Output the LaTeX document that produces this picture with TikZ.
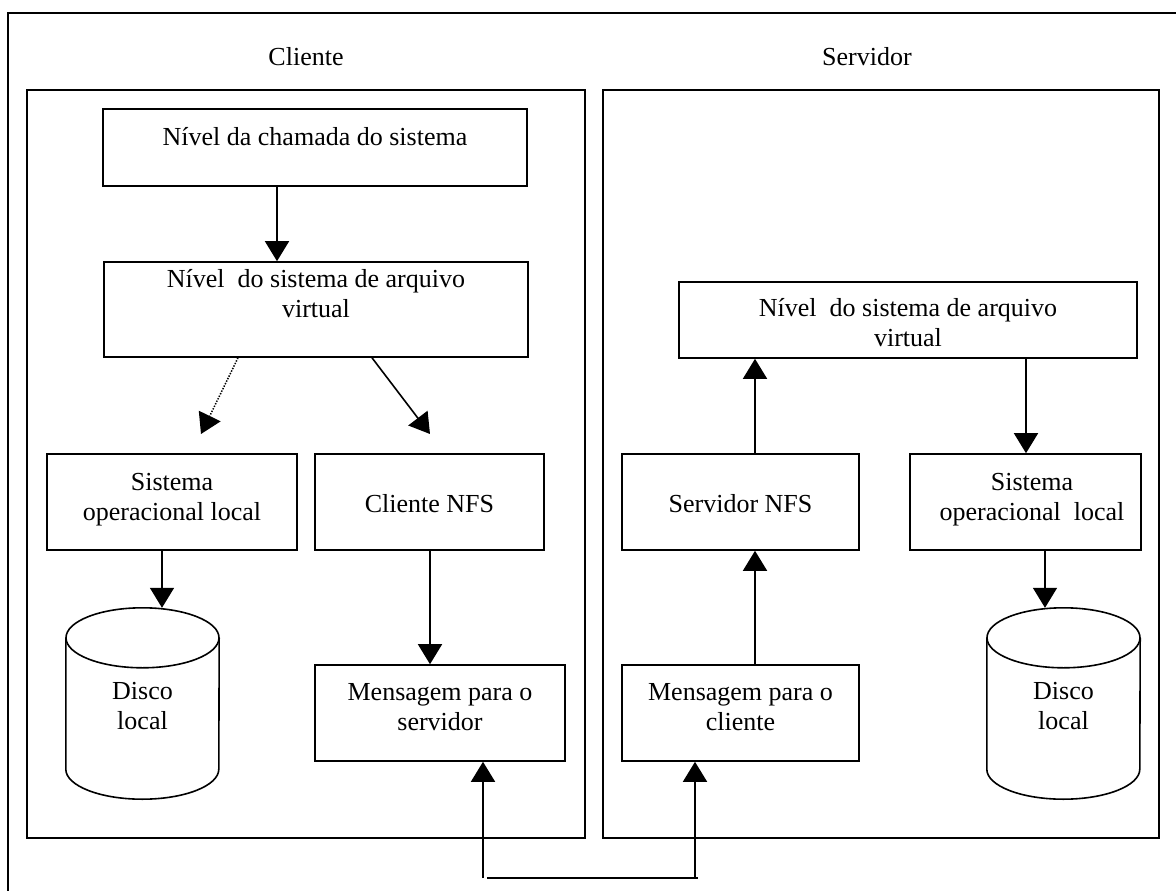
\documentclass[tikz,border=0pt]{standalone}
\usepackage{fontspec}
\setmainfont{Liberation Serif}
\usetikzlibrary{arrows.meta,calc}

% A drawn layer box whose text starts near the top: name, x1, y1, x2, y2, first baseline offset, text
\newcommand\layerbox[7]{%
  \node[layer] (#1) at ({(#2+#4)/2},{(#3+#5)/2})
    {\parbox[c][\dimexpr#5pt-#3pt\relax][t]{\dimexpr#4pt-#2pt\relax}{\centering\rule{0pt}{#6pt}#7\par}};}

% A disk: invisible text node plus cylinder outline
\newcommand\diskdrive[6]{%
  \node[inner sep=0pt] (#1) at ({(#2+#4)/2},{(#3+#5)/2})
    {\parbox[c][\dimexpr#5pt-#3pt\relax][t]{\dimexpr#4pt-#2pt\relax}{\centering\rule{0pt}{#6pt}Disco\\local\par}};
  \draw[frame] ([yshift=-30pt]#1.north) ellipse [x radius={(#4-#2)/2*1pt}, y radius=30pt];
  \draw[frame] ([yshift=-30pt]#1.north west) -- ([yshift=30pt]#1.south west)
    arc[start angle=180, end angle=360, x radius={(#4-#2)/2*1pt}, y radius=30pt]
    -- ([yshift=-30pt]#1.north east);}

\begin{document}
\fontsize{26pt}{30pt}\selectfont
\begin{tikzpicture}[x=1pt, y=-1pt,
  frame/.style={line width=1.6pt, draw=black},
  layer/.style={frame, inner sep=0pt},
  panel/.style={frame, inner sep=0pt},
  arr/.style={line width=1.6pt, -{Triangle[length=20pt,width=24pt]}},
  dotarr/.style={line width=1.5pt, dash pattern=on 1.4pt off 1.4pt, -{Triangle[length=20pt,width=24pt]}},
  plain/.style={line width=1.6pt}]
  \useasboundingbox (0,0) rectangle (1176,891);
  \clip (0,0) rectangle (1176,891);

  % outer frame (open to the right and bottom)
  \draw[frame] (8,895) -- (8,13) -- (1180,13);

  % the two machines
  \node[panel, minimum width=558pt, minimum height=748pt] (cli) at (306,464) {};
  \node[panel, minimum width=556pt, minimum height=748pt] (srv) at (881,464) {};
  \node[anchor=base] (clilbl) at (306,66) {Cliente};
  \node[anchor=base] (srvlbl) at (867,66) {Servidor};

  % client side
  \layerbox{chamada}{103}{109}{527}{186}{36}{Nível da chamada do sistema}
  \layerbox{virtC}{104}{262}{528}{357}{25}{Nível~~do sistema de arquivo\\virtual}
  \layerbox{soC}{47}{454}{297}{550}{36}{Sistema\\operacional local}
  \layerbox{nfsC}{315}{454}{544}{550}{58}{Cliente NFS}
  \layerbox{msgS}{315}{665}{565}{761}{35}{Mensagem para o\\servidor}
  \diskdrive{diskC}{66}{608}{219}{799}{91}

  % server side
  \layerbox{virtS}{679}{282}{1137}{358}{34}{Nível~~do sistema de arquivo\\virtual}
  \layerbox{nfsS}{622}{454}{859}{550}{58}{Servidor NFS}
  \layerbox{soS}{910}{454}{1141}{550}{36}{~~Sistema\\~~operacional~~local}
  \layerbox{msgC}{622}{665}{859}{761}{35}{Mensagem para o\\cliente}
  \diskdrive{diskS}{987}{608}{1140}{799}{91}

  % client connectors
  \draw[arr] ([xshift=-38pt]chamada.south) -- ([xshift=-39pt]virtC.north);
  \coordinate (tipL) at (201,434);
  \coordinate (tipR) at (430,434);
  \draw[dotarr] ([xshift=-78pt]virtC.south) -- (tipL);
  \draw[arr] ([xshift=56pt]virtC.south) -- (tipR);
  \draw[arr] ([xshift=-10pt]soC.south) -- ([xshift=19.5pt]diskC.north);
  \draw[arr] ([xshift=0.5pt]nfsC.south) -- ([xshift=-10pt]msgS.north);

  % server connectors
  \draw[arr] ([xshift=14.5pt]msgC.north) -- ([xshift=14.5pt]nfsS.south);
  \draw[arr] ([xshift=14.5pt]nfsS.north) -- ([xshift=-153pt]virtS.south);
  \draw[arr] ([xshift=118pt]virtS.south) -- ([xshift=0.5pt]soS.north);
  \draw[arr] ([xshift=19.5pt]soS.south) -- ([xshift=-18.5pt]diskS.north);

  % network link between the two message layers
  \coordinate (busL) at (483,878);
  \coordinate (busR) at (695,878);
  \draw[arr] (busL) -- ([xshift=43pt]msgS.south);
  \draw[arr] (busR) -- ([xshift=-45.5pt]msgC.south);
  \draw[plain] ([xshift=4pt]busL) -- ([xshift=3pt]busR);
\end{tikzpicture}
\end{document}
